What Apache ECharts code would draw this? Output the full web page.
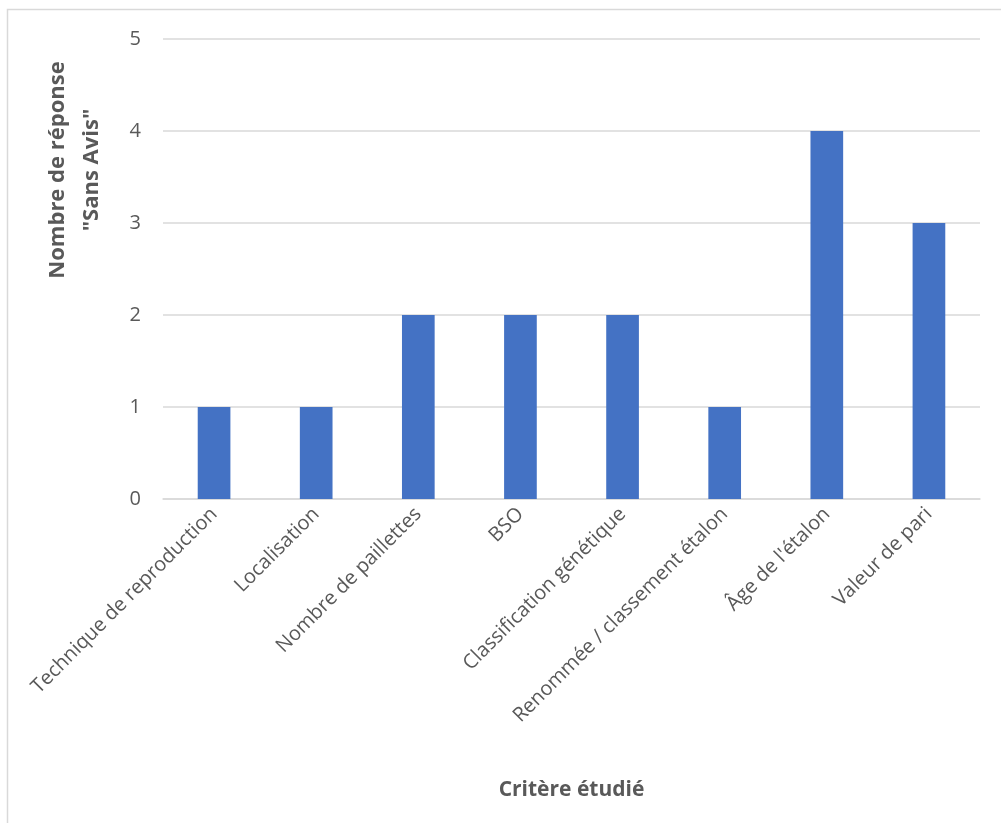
<!DOCTYPE html>
<html><head><meta charset="utf-8">
<script src="https://cdn.jsdelivr.net/npm/echarts@6/dist/echarts.min.js"></script>
<style>html,body{margin:0;padding:0;background:#fff}#c{width:1001px;height:823px}</style>
</head><body><div id="c"></div>
<script>
const categories = ["Technique de reproduction","Localisation","Nombre de paillettes","BSO","Classification génétique","Renommée / classement étalon","Âge de l'étalon","Valeur de pari"];
const values = [1,1,2,2,2,1,4,3];
const yTicks = [0,1,2,3,4,5];
const yTitle = ["Nombre de réponse", "\"Sans Avis\""];
const xTitle = "Critère étudié";

const chart = echarts.init(document.getElementById('c'), null, {renderer:'canvas'});
const font = "'Open Sans', 'Noto Sans', sans-serif";
chart.setOption({
  animation:false,
  backgroundColor:'#fff',
  grid:{left:163, right:21, top:39, bottom:324, containLabel:false},
  xAxis:{
    type:'category', data:categories,
    axisLine:{show:true, lineStyle:{color:'#d9d9d9', width:1.5}},
    axisTick:{show:false},
    axisLabel:{rotate:45, interval:0, color:'#595959', fontSize:20, fontFamily:font, margin:12},
    name:xTitle, nameLocation:'middle', nameGap:281,
    nameTextStyle:{color:'#595959', fontSize:21, fontWeight:'bold', fontFamily:font}
  },
  yAxis:{
    type:'value', min:yTicks[0], max:yTicks[yTicks.length-1], interval:1,
    axisLine:{show:false}, axisTick:{show:false},
    splitLine:{lineStyle:{color:'#d9d9d9', width:1.5}},
    axisLabel:{color:'#595959', fontSize:20, fontFamily:font, margin:22}
  },
  series:[{
    type:'bar', data:values, barWidth:'32%',
    itemStyle:{color:'#4472C4'}
  }],
  graphic:[
    {type:'rect', shape:{x:7.5, y:9.5, width:1010, height:830}, style:{fill:'none', stroke:'#d9d9d9', lineWidth:1.5}, silent:true},
    {type:'text', x:58, y:170, rotation:Math.PI/2, style:{text:yTitle[0], fill:'#595959', font:"bold 22px 'Open Sans', sans-serif", textAlign:'center', textVerticalAlign:'middle'}},
    {type:'text', x:92, y:170, rotation:Math.PI/2, style:{text:yTitle[1], fill:'#595959', font:"bold 22px 'Open Sans', sans-serif", textAlign:'center', textVerticalAlign:'middle'}}
  ]
});
</script></body></html>
